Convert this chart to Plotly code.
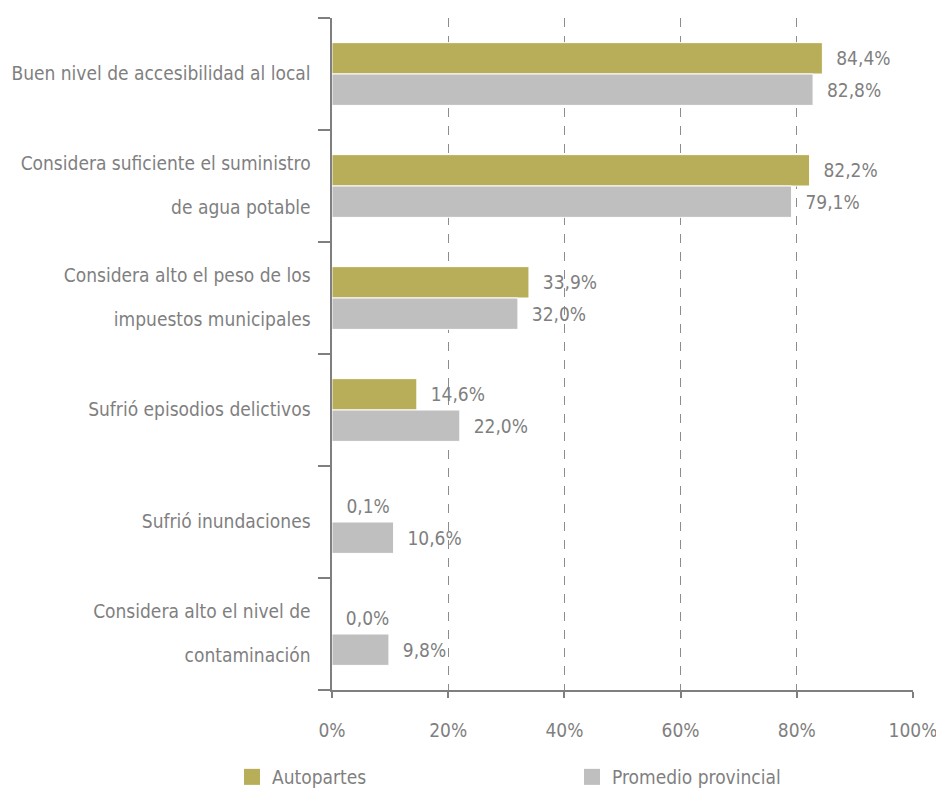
import plotly.graph_objects as go

# Data
categorias = [
    "Buen nivel de accesibilidad al local",
    "Considera suficiente el suministro<br><br>de agua potable",
    "Considera alto el peso de los<br><br>impuestos municipales",
    "Sufrió episodios delictivos",
    "Sufrió inundaciones",
    "Considera alto el nivel de<br><br>contaminación",
]
autopartes = [84.4, 82.2, 33.9, 14.6, 0.1, 0.0]
promedio = [82.8, 79.1, 32.0, 22.0, 10.6, 9.8]
x_ticks = [0, 20, 40, 60, 80, 100]
x_ticklabels = ["0%", "20%", "40%", "60%", "80%", "100%"]

FONT = "Liberation Sans Narrow, DejaVu Sans Condensed, Arial Narrow, sans-serif"
GREY_TXT = "#7f7f7f"
GOLD = "#b8ad58"
GREY_BAR = "#bfbfbf"

# page body has an 8px margin, so the figure is 8px smaller than the window
W, H = 936, 782


def big(t):
    # tick font is 17 (tighter line spacing), glyphs drawn at 19
    return "<br>".join(
        f"<span style='font-size:19px'>{p}</span>" if p else "" for p in t.split("<br>")
    )


fig = go.Figure()
fig.add_trace(go.Bar(
    y=categorias, x=autopartes, orientation="h", name="Autopartes",
    marker=dict(color=GOLD, line=dict(color="white", width=1)),
    text=autopartes, texttemplate="  %{x:.1f}%", textposition="outside",
    textfont=dict(color=GREY_TXT, size=19, family=FONT), cliponaxis=False,
    showlegend=False,
))
fig.add_trace(go.Bar(
    y=categorias, x=promedio, orientation="h", name="Promedio provincial",
    marker=dict(color=GREY_BAR, line=dict(color="white", width=1)),
    text=promedio, texttemplate="  %{x:.1f}%", textposition="outside",
    textfont=dict(color=GREY_TXT, size=19, family=FONT), cliponaxis=False,
    showlegend=False,
))
# legend entries with bigger square swatches, one legend each
for nombre, color, leg in [("Autopartes", GOLD, "legend"),
                           ("Promedio provincial", GREY_BAR, "legend2")]:
    fig.add_trace(go.Scatter(
        x=[None], y=[None], mode="markers", name=nombre, legend=leg,
        marker=dict(symbol="square", size=17, color=color),
    ))

leg_common = dict(orientation="h", xanchor="left", yref="container", xref="container",
                  y=(H - 769) / H, yanchor="middle",
                  font=dict(size=19, color=GREY_TXT, family=FONT))

fig.update_layout(
    width=W, height=H,
    margin=dict(l=324, r=31, t=10, b=100, autoexpand=False),
    plot_bgcolor="white", paper_bgcolor="white",
    barmode="group", bargap=0.44, bargroupgap=0,
    separators=",.",
    font=dict(family=FONT, size=19, color=GREY_TXT),
    legend=dict(x=224 / W, **leg_common),
    legend2=dict(x=564 / W, **leg_common),
    uniformtext=dict(mode="show", minsize=10),
)
fig.update_xaxes(
    range=[0, 100], tickvals=x_ticks, ticktext=x_ticklabels,
    showgrid=True, gridcolor="#8c8c8c", griddash="dash", gridwidth=1,
    showline=True, linecolor="#7f7f7f", linewidth=2,
    ticks="outside", ticklen=6, tickcolor="#7f7f7f", tickwidth=2,
    ticklabelstandoff=16, zeroline=False, automargin=False,
)
fig.update_yaxes(
    autorange="reversed", tickson="boundaries",
    categoryorder="array", categoryarray=categorias,
    tickvals=categorias, ticktext=[big(c) for c in categorias],
    tickfont=dict(size=17),
    showline=True, linecolor="#7f7f7f", linewidth=2,
    ticks="outside", ticklen=12, tickcolor="#7f7f7f", tickwidth=2,
    ticklabelstandoff=16, showgrid=False, automargin=False,
)

fig.write_html("out.html")
